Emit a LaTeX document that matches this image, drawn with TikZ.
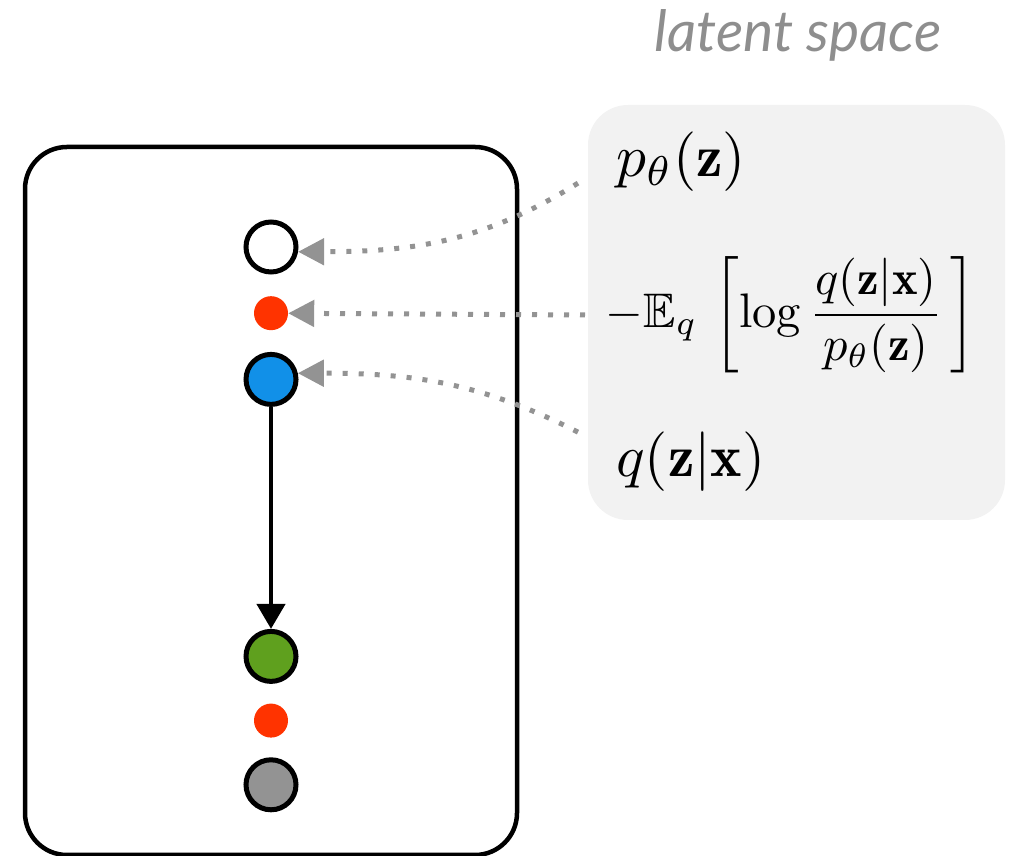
\documentclass[tikz,border=0pt]{standalone}
\usepackage{amsmath,amssymb}
\usepackage{fontspec}
\usepackage{tikz}
\usetikzlibrary{positioning,arrows.meta}
\newfontfamily\latentfont{Lato}
\definecolor{vaeblue}{HTML}{1190E8}
\definecolor{vaegreen}{HTML}{5FA01E}
\definecolor{vaered}{HTML}{FF3300}
\definecolor{vaegray}{HTML}{939393}
\definecolor{vaepanel}{HTML}{F2F2F2}
\definecolor{vaetext}{HTML}{8E8E8E}

\begin{document}
\begin{tikzpicture}[x=1pt,y=1pt,
    var/.style={circle,draw=black,line width=5pt,minimum size=50pt,inner sep=0pt},
    dot/.style={circle,fill=vaered,minimum size=34pt,inner sep=0pt},
    plate/.style={draw=black,line width=4.5pt,rounded corners=42pt,
                  minimum width=492pt,minimum height=708pt},
    panel/.style={fill=vaepanel,rounded corners=40pt,minimum width=417pt,minimum height=415pt},
    formula/.style={inner sep=0pt},
    arr/.style={-{Triangle[length=25pt,width=28pt]},line width=4.5pt,black},
    hint/.style={-{Triangle[length=26pt,width=26pt]},vaegray,line width=5pt,
                 dash pattern=on 5pt off 11pt},
    node distance=21.5pt,
  ]
    \useasboundingbox (0,0) rectangle (1018,856);
    \node[plate] (plate) at (271,355) {};
    \node[panel] (panel) at (796.5,543.5) {};
    \node[font=\latentfont\itshape\fontsize{57}{62}\selectfont,text=vaetext,anchor=base] (title) at (798,804) {latent space};

    \node[var,fill=white] (prior) at (271,609) {};
    \node[dot,below=of prior] (kl) {};
    \node[var,fill=vaeblue,below=of kl] (encoder) {};
    \node[var,fill=vaegreen,below=222pt of encoder] (decoder) {};
    \node[dot,below=19.5pt of decoder] (recon) {};
    \node[var,fill=vaegray,below=19.5pt of recon] (data) {};

    \node[formula,anchor=base west,scale=5.95] (pz) at (615,679) {$p_\theta(\mathbf{z})$};
    \node[formula,anchor=west,scale=4.85] (elbo) at (605,541) {$-\mathbb{E}_q\,\left[\log\dfrac{q(\mathbf{z}|\mathbf{x})}{p_\theta(\mathbf{z})}\,\right]$};
    \node[formula,anchor=base west,scale=5.95] (qz) at (615,379) {$q(\mathbf{z}|\mathbf{x})$};

    \coordinate (pzfoot) at ([shift={(-37,-21)}]pz.west);
    \coordinate (elbofoot) at ([xshift=-20pt]elbo.west);
    \coordinate (qzfoot) at ([shift={(-37,30)}]qz.west);

    \draw[arr] (encoder) -- (decoder);
    \draw[hint] (pzfoot) to[out=212,in=0] (prior.-10);
    \draw[hint] (elbofoot) -- (kl);
    \draw[hint] (qzfoot) to[out=153,in=0] (encoder.13);
  \end{tikzpicture}
\end{document}
